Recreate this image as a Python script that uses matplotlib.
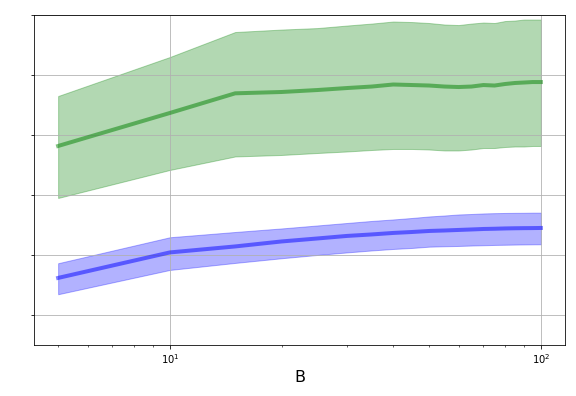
import numpy as np
import matplotlib
matplotlib.use('Agg')
import matplotlib.pyplot as plt

######################################################################
# values
B = [5, 10, 15, 20, 25, 30, 35, 40, 45, 50, 55, 60, 65, 70, 75, 80, 85, 90, 95, 100]

green_mean = [2.817, 3.367, 3.695, 3.717, 3.75, 3.783, 3.808, 3.842, 3.833, 3.825,
              3.808, 3.8, 3.808, 3.833, 3.825, 3.85, 3.867, 3.875, 3.883, 3.883]
green_upper = [3.65, 4.3, 4.717, 4.758, 4.783, 4.825, 4.858, 4.892, 4.883, 4.867,
               4.842, 4.833, 4.858, 4.875, 4.867, 4.9, 4.908, 4.925, 4.925, 4.925]
green_lower = [1.95, 2.417, 2.642, 2.667, 2.7, 2.725, 2.75, 2.767, 2.767, 2.758,
               2.742, 2.742, 2.758, 2.783, 2.783, 2.8, 2.808, 2.808, 2.817, 2.817]

blue_mean = [0.617, 1.042, 1.142, 1.225, 1.275, 1.317, 1.342, 1.367, 1.383, 1.4,
             1.408, 1.417, 1.425, 1.433, 1.437, 1.442, 1.445, 1.447, 1.448, 1.45]
blue_upper = [0.862, 1.295, 1.383, 1.442, 1.492, 1.533, 1.567, 1.592, 1.617, 1.642,
              1.658, 1.675, 1.683, 1.692, 1.697, 1.7, 1.702, 1.703, 1.705, 1.705]
blue_lower = [0.345, 0.75, 0.867, 0.945, 1.0, 1.042, 1.075, 1.1, 1.117, 1.138,
              1.145, 1.15, 1.157, 1.162, 1.167, 1.17, 1.173, 1.175, 1.177, 1.178]

y_ticks = [0, 1, 2, 3, 4, 5]

fig = plt.figure(figsize=(8, 5.5), dpi=72)
ax = fig.add_axes([0.059, 0.129, 0.922, 0.833])

# shaded bands first, then the mean lines on top
ax.fill_between(B, green_lower, green_upper, color='g', alpha=0.3)
ax.plot(B, green_mean, color='g', alpha=0.5, linewidth=4)

ax.fill_between(B, blue_lower, blue_upper, color='b', alpha=0.3)
ax.plot(B, blue_mean, color='b', alpha=0.5, linewidth=4)

ax.set_xscale('log')
ax.set_ylim(-0.5, 5)
ax.set_yticks(y_ticks)
ax.set_yticklabels([])
ax.grid(True, which='major')
ax.tick_params(labelsize=10)
ax.set_xlabel('B', fontsize=16)

fig.savefig('out.png', dpi=72)
